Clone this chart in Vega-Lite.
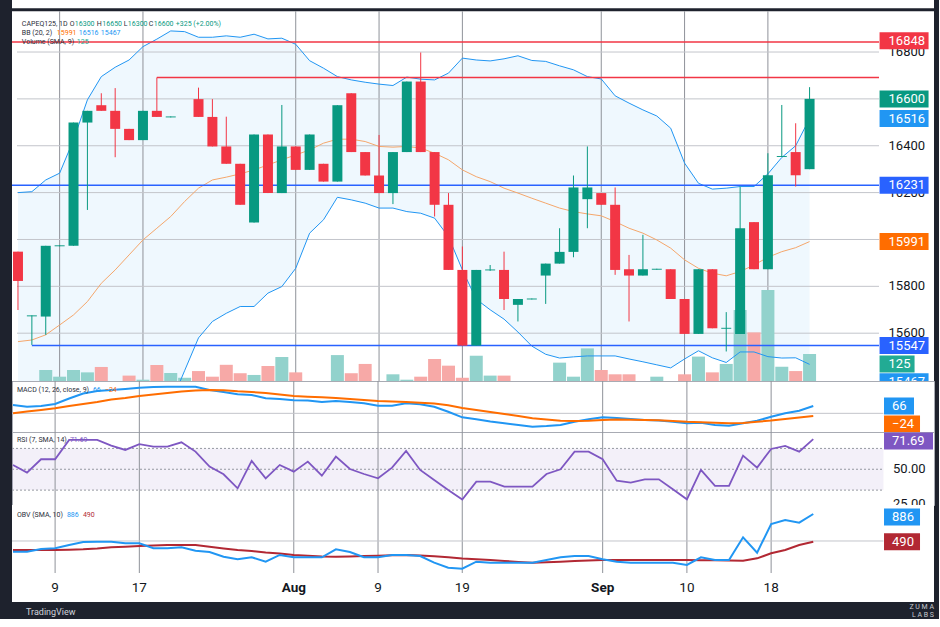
{
  "$schema": "https://vega.github.io/schema/vega-lite/v6.json",
  "background": "#1e222d",
  "padding": {"left": 8, "top": 0, "right": 3, "bottom": 1},
  "spacing": 0,
  "bounds": "flush",
  "resolve": {"scale": {"color": "independent"}},
  "title": {"text": ["Z U M A", "L A B S"], "orient": "bottom", "anchor": "end", "frame": "group", "fontSize": 7, "lineHeight": 8, "color": "#c7c9cf", "fontWeight": "normal", "offset": 0, "dy": -14},
  "datasets": {
    "bars": [
      {"i":0,"o":15948,"h":15948,"l":15699,"c":15823,"v":0,"bu":16200,"bm":15564,"bl":14930,"m":75,"sg":0,"r":53.1,"ob":347,"oa":371},
      {"i":1,"o":15672,"h":15676,"l":15550,"c":15676,"v":0,"bu":16204,"bm":15571,"bl":14940,"m":59,"sg":16,"r":47.6,"ob":347,"oa":371},
      {"i":2,"o":15671,"h":15973,"l":15593,"c":15973,"v":51,"bu":16254,"bm":15593,"bl":14930,"m":66,"sg":30,"r":57.2,"ob":386,"oa":371},
      {"i":3,"o":15971,"h":15975,"l":15971,"c":15975,"v":20,"bu":16283,"bm":15635,"bl":14990,"m":84,"sg":45,"r":57.2,"ob":396,"oa":371},
      {"i":4,"o":15973,"h":16499,"l":15973,"c":16499,"v":51,"bu":16425,"bm":15678,"bl":14930,"m":133,"sg":66,"r":71.1,"ob":443,"oa":374},
      {"i":5,"o":16499,"h":16549,"l":16126,"c":16549,"v":40,"bu":16596,"bm":15735,"bl":14875,"m":178,"sg":84,"r":71.1,"ob":486,"oa":381},
      {"i":6,"o":16573,"h":16624,"l":16549,"c":16549,"v":65,"bu":16695,"bm":15813,"bl":14930,"m":201,"sg":102,"r":71.1,"ob":490,"oa":393},
      {"i":7,"o":16549,"h":16646,"l":16351,"c":16472,"v":0,"bu":16735,"bm":15870,"bl":15005,"m":210,"sg":124,"r":67.0,"ob":490,"oa":410},
      {"i":8,"o":16472,"h":16472,"l":16424,"c":16424,"v":25,"bu":16766,"bm":15934,"bl":15100,"m":219,"sg":138,"r":63.9,"ob":467,"oa":417},
      {"i":9,"o":16424,"h":16549,"l":16424,"c":16549,"v":6,"bu":16823,"bm":15998,"bl":15175,"m":230,"sg":156,"r":68.0,"ob":467,"oa":428},
      {"i":10,"o":16549,"h":16691,"l":16523,"c":16523,"v":74,"bu":16855,"bm":16048,"bl":15240,"m":237,"sg":169,"r":66.3,"ob":396,"oa":436},
      {"i":11,"o":16521,"h":16525,"l":16521,"c":16525,"v":37,"bu":16890,"bm":16098,"bl":15300,"m":239,"sg":183,"r":66.3,"ob":396,"oa":443},
      {"i":12,"o":null,"h":null,"l":null,"c":null,"v":15,"bu":16887,"bm":16162,"bl":15440,"m":239,"sg":196,"r":69.4,"ob":410,"oa":443},
      {"i":13,"o":16599,"h":16648,"l":16523,"c":16523,"v":46,"bu":16863,"bm":16219,"bl":15580,"m":239,"sg":205,"r":62.7,"ob":361,"oa":443},
      {"i":14,"o":16523,"h":16599,"l":16397,"c":16397,"v":20,"bu":16863,"bm":16254,"bl":15650,"m":210,"sg":210,"r":51.9,"ob":343,"oa":418},
      {"i":15,"o":16397,"h":16524,"l":16323,"c":16323,"v":75,"bu":16869,"bm":16266,"bl":15685,"m":192,"sg":207,"r":46.4,"ob":275,"oa":393},
      {"i":16,"o":16323,"h":16323,"l":16148,"c":16148,"v":36,"bu":16863,"bm":16280,"bl":15714,"m":171,"sg":198,"r":36.3,"ob":238,"oa":371},
      {"i":17,"o":16072,"h":16448,"l":16072,"c":16448,"v":28,"bu":16876,"bm":16297,"bl":15714,"m":165,"sg":192,"r":56.0,"ob":267,"oa":357},
      {"i":18,"o":16448,"h":16448,"l":16198,"c":16198,"v":69,"bu":16856,"bm":16318,"bl":15771,"m":135,"sg":183,"r":43.5,"ob":204,"oa":335},
      {"i":19,"o":16198,"h":16574,"l":16198,"c":16397,"v":111,"bu":16859,"bm":16340,"bl":15799,"m":128,"sg":169,"r":53.1,"ob":300,"oa":321},
      {"i":20,"o":16397,"h":16397,"l":16297,"c":16297,"v":40,"bu":16833,"bm":16361,"bl":15877,"m":117,"sg":156,"r":48.3,"ob":267,"oa":300},
      {"i":21,"o":16297,"h":16448,"l":16297,"c":16448,"v":0,"bu":16763,"bm":16382,"bl":16027,"m":115,"sg":150,"r":55.5,"ob":267,"oa":288},
      {"i":22,"o":16323,"h":16323,"l":16247,"c":16247,"v":0,"bu":16731,"bm":16411,"bl":16084,"m":102,"sg":145,"r":45.4,"ob":267,"oa":278},
      {"i":23,"o":16247,"h":16573,"l":16247,"c":16573,"v":120,"bu":16695,"bm":16428,"bl":16180,"m":111,"sg":138,"r":59.1,"ob":381,"oa":275},
      {"i":24,"o":16624,"h":16624,"l":16373,"c":16373,"v":36,"bu":16681,"bm":16428,"bl":16169,"m":102,"sg":129,"r":50.2,"ob":343,"oa":278},
      {"i":25,"o":16373,"h":16373,"l":16273,"c":16273,"v":79,"bu":16671,"bm":16418,"bl":16155,"m":90,"sg":120,"r":46.6,"ob":267,"oa":285},
      {"i":26,"o":16273,"h":16446,"l":16198,"c":16198,"v":0,"bu":16663,"bm":16397,"bl":16134,"m":69,"sg":111,"r":43.5,"ob":267,"oa":290},
      {"i":27,"o":16198,"h":16373,"l":16151,"c":16373,"v":31,"bu":16657,"bm":16394,"bl":16134,"m":69,"sg":106,"r":51.2,"ob":300,"oa":295},
      {"i":28,"o":16373,"h":16674,"l":16373,"c":16674,"v":6,"bu":16693,"bm":16397,"bl":16119,"m":90,"sg":102,"r":63.2,"ob":300,"oa":300},
      {"i":29,"o":16674,"h":16798,"l":16373,"c":16373,"v":20,"bu":16684,"bm":16390,"bl":16112,"m":81,"sg":95,"r":49.5,"ob":285,"oa":293},
      {"i":30,"o":16373,"h":16373,"l":16098,"c":16148,"v":102,"bu":16681,"bm":16368,"bl":16091,"m":59,"sg":88,"r":42.3,"ob":190,"oa":281},
      {"i":31,"o":16148,"h":16198,"l":15870,"c":15870,"v":71,"bu":16710,"bm":16340,"bl":16012,"m":14,"sg":72,"r":35.1,"ob":118,"oa":267},
      {"i":32,"o":15870,"h":15970,"l":15547,"c":15547,"v":15,"bu":16774,"bm":16297,"bl":15870,"m":-36,"sg":48,"r":28.3,"ob":104,"oa":250},
      {"i":33,"o":15547,"h":15870,"l":15547,"c":15870,"v":117,"bu":16766,"bm":16268,"bl":15745,"m":-54,"sg":30,"r":41.1,"ob":204,"oa":238},
      {"i":34,"o":15868,"h":15891,"l":15866,"c":15872,"v":25,"bu":16762,"bm":16247,"bl":15700,"m":-74,"sg":12,"r":41.1,"ob":190,"oa":228},
      {"i":35,"o":15870,"h":15948,"l":15699,"c":15746,"v":25,"bu":16771,"bm":16219,"bl":15660,"m":-90,"sg":-6,"r":37.5,"ob":190,"oa":214},
      {"i":36,"o":15721,"h":15746,"l":15650,"c":15746,"v":0,"bu":16784,"bm":16198,"bl":15605,"m":-105,"sg":-24,"r":37.5,"ob":190,"oa":200},
      {"i":37,"o":15744,"h":15748,"l":15744,"c":15748,"v":0,"bu":16764,"bm":16176,"bl":15545,"m":-120,"sg":-45,"r":37.5,"ob":190,"oa":190},
      {"i":38,"o":15846,"h":15897,"l":15725,"c":15897,"v":0,"bu":16760,"bm":16155,"bl":15510,"m":-114,"sg":-56,"r":46.6,"ob":228,"oa":195},
      {"i":39,"o":15897,"h":16048,"l":15897,"c":15947,"v":85,"bu":16741,"bm":16134,"bl":15494,"m":-105,"sg":-67,"r":50.0,"ob":267,"oa":204},
      {"i":40,"o":15947,"h":16273,"l":15924,"c":16222,"v":20,"bu":16724,"bm":16119,"bl":15499,"m":-76,"sg":-69,"r":62.7,"ob":285,"oa":214},
      {"i":41,"o":16172,"h":16397,"l":16048,"c":16222,"v":151,"bu":16695,"bm":16109,"bl":15503,"m":-54,"sg":-67,"r":62.7,"ob":285,"oa":221},
      {"i":42,"o":16198,"h":16198,"l":16148,"c":16148,"v":51,"bu":16685,"bm":16101,"bl":15503,"m":-36,"sg":-60,"r":57.2,"ob":238,"oa":228},
      {"i":43,"o":16148,"h":16222,"l":15849,"c":15870,"v":31,"bu":16613,"bm":16076,"bl":15503,"m":-42,"sg":-56,"r":41.8,"ob":204,"oa":228},
      {"i":44,"o":15873,"h":15934,"l":15650,"c":15846,"v":31,"bu":16582,"bm":16048,"bl":15490,"m":-51,"sg":-58,"r":40.4,"ob":190,"oa":228},
      {"i":45,"o":15846,"h":16020,"l":15846,"c":15873,"v":0,"bu":16553,"bm":16027,"bl":15478,"m":-60,"sg":-60,"r":42.8,"ob":190,"oa":228},
      {"i":46,"o":15871,"h":15875,"l":15871,"c":15875,"v":20,"bu":16527,"bm":15998,"bl":15465,"m":-65,"sg":-63,"r":42.8,"ob":190,"oa":228},
      {"i":47,"o":15873,"h":15873,"l":15746,"c":15746,"v":0,"bu":16475,"bm":15963,"bl":15452,"m":-76,"sg":-68,"r":35.6,"ob":190,"oa":228},
      {"i":48,"o":15746,"h":15746,"l":15597,"c":15597,"v":31,"bu":16326,"bm":15913,"bl":15490,"m":-90,"sg":-76,"r":28.4,"ob":157,"oa":228},
      {"i":49,"o":15597,"h":15873,"l":15597,"c":15873,"v":113,"bu":16240,"bm":15877,"bl":15525,"m":-85,"sg":-80,"r":49.5,"ob":267,"oa":225},
      {"i":50,"o":15873,"h":15873,"l":15621,"c":15621,"v":40,"bu":16215,"bm":15856,"bl":15495,"m":-105,"sg":-85,"r":38.0,"ob":228,"oa":224},
      {"i":51,"o":15619,"h":15690,"l":15522,"c":15623,"v":79,"bu":16219,"bm":15845,"bl":15475,"m":-111,"sg":-89,"r":38.0,"ob":228,"oa":221},
      {"i":52,"o":15597,"h":16226,"l":15597,"c":16048,"v":329,"bu":16226,"bm":15863,"bl":15520,"m":-90,"sg":-87,"r":59.8,"ob":553,"oa":218},
      {"i":53,"o":16074,"h":16074,"l":15873,"c":15873,"v":225,"bu":16226,"bm":15891,"bl":15520,"m":-67,"sg":-76,"r":51.2,"ob":333,"oa":252},
      {"i":54,"o":15873,"h":16368,"l":15873,"c":16274,"v":421,"bu":16280,"bm":15924,"bl":15500,"m":-31,"sg":-65,"r":64.6,"ob":743,"oa":324},
      {"i":55,"o":16352,"h":16574,"l":16352,"c":16356,"v":66,"bu":16350,"bm":15948,"bl":15494,"m":0,"sg":-51,"r":66.8,"ob":800,"oa":371},
      {"i":56,"o":16373,"h":16496,"l":16226,"c":16274,"v":46,"bu":16400,"bm":15965,"bl":15495,"m":23,"sg":-38,"r":62.7,"ob":762,"oa":443},
      {"i":57,"o":16300,"h":16650,"l":16300,"c":16600,"v":125,"bu":16516,"bm":15991,"bl":15467,"m":66,"sg":-24,"r":71.69,"ob":886,"oa":490}
    ],
    "one": [{"n": 1}],
    "pgrid": [{"p":15600},{"p":15800},{"p":16000},{"p":16200},{"p":16400},{"p":16600},{"p":16800}],
    "plab": [{"p":15600},{"p":15800},{"p":16200},{"p":16400},{"p":16800}],
    "levels": [
      {"p":16843,"s":-5,"k":"r"},
      {"p":16691,"s":10,"k":"r"},
      {"p":16231,"s":-5,"k":"b"},
      {"p":15547,"s":1,"k":"b"}
    ],
    "ptags": [
      {"p":16848,"t":"16848","k":"r"},
      {"p":16600,"t":"16600","k":"up"},
      {"p":16516,"t":"16516","k":"bb"},
      {"p":16231,"t":"16231","k":"b"},
      {"p":15991,"t":"15991","k":"mid"},
      {"p":15547,"t":"15547","k":"b"}
    ],
    "ptag2": [{"p":15467,"t":"15467"}],
    "vtag": [{"v":125,"t":"125"}],
    "mzero": [{"v":0}],
    "mtag1": [{"v":66,"t":"66"}],
    "mtag2": [{"v":-24,"t":"−24"}],
    "rband": [{"hi":65,"lo":35}],
    "rlines": [{"v":65},{"v":50},{"v":35}],
    "rlab": [{"v":50},{"v":25}],
    "rtag": [{"v":71.69,"t":"71.69"}],
    "ogrid": [{"v":500}],
    "otag1": [{"v":886,"t":"886"}],
    "otag2": [{"v":490,"t":"490"}],
    "dates": [
      {"i":3,"t":"9"},{"i":9,"t":"17"},{"i":20,"t":"Aug"},{"i":26,"t":"9"},
      {"i":32,"t":"19"},{"i":42,"t":"Sep"},{"i":48,"t":"10"},{"i":54,"t":"18"}
    ]
  },
  "vconcat": [
    {
      "width": 922,
      "height": 381,
      "view": {"stroke": null},
      "layer": [
        {
          "layer": [
            {
              "data": {"name": "bars"},
              "mark": {"type": "area", "color": "#2196f3", "opacity": 0.07, "clip": true},
              "encoding": {
                "x": {"field": "i", "type": "quantitative", "scale": {"domain": [-0.07, 65.6], "nice": false, "zero": false}, "axis": null},
                "y": {"field": "bu", "type": "quantitative", "scale": {"domain": [15396, 17022], "nice": false, "zero": false}, "axis": null},
                "y2": {"field": "bl"}
              }
            },
            {
              "data": {"name": "dates"},
              "mark": {"type": "rule", "color": "#8f9299", "strokeWidth": 1},
              "encoding": {
                "x": {"field": "i", "type": "quantitative", "axis": null},
                "y": {"datum": 16973, "type": "quantitative", "axis": null},
                "y2": {"datum": 15396}
              }
            },
            {
              "data": {"name": "pgrid"},
              "mark": {"type": "rule", "color": "#c3c5cb", "strokeWidth": 1},
              "encoding": {
                "x": {"datum": -0.07, "type": "quantitative", "axis": null},
                "x2": {"datum": 62.0},
                "y": {"field": "p", "type": "quantitative", "axis": null}
              }
            },
            {
              "data": {"name": "one"},
              "mark": {"type": "rule", "color": "#1e222d", "strokeWidth": 3},
              "encoding": {"y": {"datum": 16980, "type": "quantitative", "axis": null}}
            }
          ]
        },
        {
          "layer": [
            {
              "data": {"name": "bars"},
              "mark": {"type": "bar", "width": 13},
              "encoding": {
                "x": {"field": "i", "type": "quantitative", "axis": null},
                "y": {"field": "v", "type": "quantitative", "scale": {"domain": [0, 1764], "nice": false}, "axis": null},
                "color": {"condition": {"test": "datum.c >= datum.o", "value": "#92d2cc"}, "value": "#f7a9a7"}
              }
            },
            {
              "data": {"name": "vtag"},
              "mark": {"type": "point", "shape": "M-1,-0.486L1,-0.486L1,0.486L-1,0.486Z", "size": 1225, "filled": true, "opacity": 1, "strokeWidth": 0, "xOffset": 17.5, "yOffset": 10, "color": "#22ab94"},
              "encoding": {"x": {"datum": 62.04, "type": "quantitative", "axis": null}, "y": {"field": "v", "type": "quantitative", "axis": null}}
            },
            {
              "data": {"name": "vtag"},
              "mark": {"type": "text", "align": "left", "baseline": "middle", "dx": 9, "yOffset": 10, "color": "white", "fontSize": 13},
              "encoding": {"x": {"datum": 62.04, "type": "quantitative", "axis": null}, "y": {"field": "v", "type": "quantitative", "axis": null}, "text": {"field": "t"}}
            }
          ]
        },
        {
          "layer": [
            {
              "data": {"name": "bars"},
              "mark": {"type": "line", "color": "#2196f3", "strokeWidth": 1, "clip": true},
              "encoding": {
                "x": {"field": "i", "type": "quantitative", "axis": null},
                "y": {"field": "bu", "type": "quantitative", "scale": {"domain": [15396, 17022], "nice": false, "zero": false}, "axis": null}
              }
            },
            {
              "data": {"name": "bars"},
              "mark": {"type": "line", "color": "#2196f3", "strokeWidth": 1, "clip": true},
              "encoding": {"x": {"field": "i", "type": "quantitative", "axis": null}, "y": {"field": "bl", "type": "quantitative", "axis": null}}
            },
            {
              "data": {"name": "bars"},
              "mark": {"type": "line", "color": "#f5a76c", "strokeWidth": 1, "clip": true},
              "encoding": {"x": {"field": "i", "type": "quantitative", "axis": null}, "y": {"field": "bm", "type": "quantitative", "axis": null}}
            },
            {
              "data": {"name": "levels"},
              "mark": {"type": "rule", "strokeWidth": 1.5, "clip": true},
              "encoding": {
                "x": {"field": "s", "type": "quantitative", "axis": null},
                "x2": {"datum": 62.0},
                "y": {"field": "p", "type": "quantitative", "axis": null},
                "color": {"field": "k", "type": "nominal", "scale": {"domain": ["r", "b", "up", "bb", "mid"], "range": ["#f23645", "#2962ff", "#089981", "#2196f3", "#ff6d00"]}, "legend": null}
              }
            },
            {
              "data": {"name": "bars"},
              "mark": {"type": "rule", "strokeWidth": 1},
              "encoding": {
                "x": {"field": "i", "type": "quantitative", "axis": null},
                "y": {"field": "l", "type": "quantitative", "axis": null},
                "y2": {"field": "h"},
                "color": {"condition": {"test": "datum.c >= datum.o", "value": "#089981"}, "value": "#f23645"}
              }
            },
            {
              "data": {"name": "bars"},
              "mark": {"type": "bar", "width": 10},
              "encoding": {
                "x": {"field": "i", "type": "quantitative", "axis": null},
                "y": {"field": "o", "type": "quantitative", "axis": null},
                "y2": {"field": "c"},
                "color": {"condition": {"test": "datum.c >= datum.o", "value": "#089981"}, "value": "#f23645"}
              }
            },
            {
              "data": {"name": "plab"},
              "mark": {"type": "text", "align": "left", "baseline": "middle", "dx": 9, "color": "#131722", "fontSize": 13},
              "encoding": {"x": {"datum": 62.04, "type": "quantitative", "axis": null}, "y": {"field": "p", "type": "quantitative", "axis": null}, "text": {"field": "p", "type": "quantitative", "format": "d"}}
            },
            {
              "data": {"name": "ptags"},
              "mark": {"type": "point", "shape": "M-1,-0.347L1,-0.347L1,0.347L-1,0.347Z", "size": 2401, "filled": true, "opacity": 1, "strokeWidth": 0, "xOffset": 24.5, "clip": true},
              "encoding": {
                "x": {"datum": 62.04, "type": "quantitative", "axis": null},
                "y": {"field": "p", "type": "quantitative", "axis": null},
                "color": {"field": "k", "type": "nominal", "scale": {"domain": ["r", "b", "up", "bb", "mid"], "range": ["#f23645", "#2962ff", "#089981", "#2196f3", "#ff6d00"]}, "legend": null}
              }
            },
            {
              "data": {"name": "ptags"},
              "mark": {"type": "text", "align": "left", "baseline": "middle", "dx": 9, "color": "white", "fontSize": 13, "clip": true},
              "encoding": {"x": {"datum": 62.04, "type": "quantitative", "axis": null}, "y": {"field": "p", "type": "quantitative", "axis": null}, "text": {"field": "t"}}
            },
            {
              "data": {"name": "ptag2"},
              "mark": {"type": "point", "shape": "M-1,-0.347L1,-0.347L1,0.347L-1,0.347Z", "size": 2401, "filled": true, "opacity": 1, "strokeWidth": 0, "xOffset": 24.5, "yOffset": 17.5, "color": "#2196f3", "clip": true},
              "encoding": {"x": {"datum": 62.04, "type": "quantitative", "axis": null}, "y": {"field": "p", "type": "quantitative", "axis": null}}
            },
            {
              "data": {"name": "ptag2"},
              "mark": {"type": "text", "align": "left", "baseline": "middle", "dx": 9, "yOffset": 17.5, "color": "white", "fontSize": 13, "clip": true},
              "encoding": {"x": {"datum": 62.04, "type": "quantitative", "axis": null}, "y": {"field": "p", "type": "quantitative", "axis": null}, "text": {"field": "t"}}
            },
            {
              "data": {"name": "one"},
              "layer": [
                {"mark": {"type": "text", "text": "CAPEQ125, 1D", "align": "left", "baseline": "top", "fontSize": 7, "color": "#2a2e39"}, "encoding": {"x": {"datum": 0.28, "type": "quantitative", "axis": null}, "y": {"datum": 16937, "type": "quantitative", "axis": null}}},
                {"mark": {"type": "text", "text": "O", "dx": 48, "align": "left", "baseline": "top", "fontSize": 7, "color": "#2a2e39"}, "encoding": {"x": {"datum": 0.28, "type": "quantitative", "axis": null}, "y": {"datum": 16937, "type": "quantitative", "axis": null}}},
                {"mark": {"type": "text", "text": "16300", "dx": 53, "align": "left", "baseline": "top", "fontSize": 7, "color": "#089981"}, "encoding": {"x": {"datum": 0.28, "type": "quantitative", "axis": null}, "y": {"datum": 16937, "type": "quantitative", "axis": null}}},
                {"mark": {"type": "text", "text": "H", "dx": 75, "align": "left", "baseline": "top", "fontSize": 7, "color": "#2a2e39"}, "encoding": {"x": {"datum": 0.28, "type": "quantitative", "axis": null}, "y": {"datum": 16937, "type": "quantitative", "axis": null}}},
                {"mark": {"type": "text", "text": "16650", "dx": 80.5, "align": "left", "baseline": "top", "fontSize": 7, "color": "#089981"}, "encoding": {"x": {"datum": 0.28, "type": "quantitative", "axis": null}, "y": {"datum": 16937, "type": "quantitative", "axis": null}}},
                {"mark": {"type": "text", "text": "L", "dx": 102, "align": "left", "baseline": "top", "fontSize": 7, "color": "#2a2e39"}, "encoding": {"x": {"datum": 0.28, "type": "quantitative", "axis": null}, "y": {"datum": 16937, "type": "quantitative", "axis": null}}},
                {"mark": {"type": "text", "text": "16300", "dx": 106, "align": "left", "baseline": "top", "fontSize": 7, "color": "#089981"}, "encoding": {"x": {"datum": 0.28, "type": "quantitative", "axis": null}, "y": {"datum": 16937, "type": "quantitative", "axis": null}}},
                {"mark": {"type": "text", "text": "C", "dx": 127, "align": "left", "baseline": "top", "fontSize": 7, "color": "#2a2e39"}, "encoding": {"x": {"datum": 0.28, "type": "quantitative", "axis": null}, "y": {"datum": 16937, "type": "quantitative", "axis": null}}},
                {"mark": {"type": "text", "text": "16600", "dx": 132, "align": "left", "baseline": "top", "fontSize": 7, "color": "#089981"}, "encoding": {"x": {"datum": 0.28, "type": "quantitative", "axis": null}, "y": {"datum": 16937, "type": "quantitative", "axis": null}}},
                {"mark": {"type": "text", "text": "+325 (+2.00%)", "dx": 154, "align": "left", "baseline": "top", "fontSize": 7, "color": "#089981"}, "encoding": {"x": {"datum": 0.28, "type": "quantitative", "axis": null}, "y": {"datum": 16937, "type": "quantitative", "axis": null}}},
                {"mark": {"type": "text", "text": "BB (20, 2)", "align": "left", "baseline": "top", "fontSize": 7, "color": "#2a2e39"}, "encoding": {"x": {"datum": 0.28, "type": "quantitative", "axis": null}, "y": {"datum": 16899, "type": "quantitative", "axis": null}}},
                {"mark": {"type": "text", "text": "15991", "dx": 35, "align": "left", "baseline": "top", "fontSize": 7, "color": "#ff6d00"}, "encoding": {"x": {"datum": 0.28, "type": "quantitative", "axis": null}, "y": {"datum": 16899, "type": "quantitative", "axis": null}}},
                {"mark": {"type": "text", "text": "16516", "dx": 57, "align": "left", "baseline": "top", "fontSize": 7, "color": "#2196f3"}, "encoding": {"x": {"datum": 0.28, "type": "quantitative", "axis": null}, "y": {"datum": 16899, "type": "quantitative", "axis": null}}},
                {"mark": {"type": "text", "text": "15467", "dx": 79, "align": "left", "baseline": "top", "fontSize": 7, "color": "#2196f3"}, "encoding": {"x": {"datum": 0.28, "type": "quantitative", "axis": null}, "y": {"datum": 16899, "type": "quantitative", "axis": null}}},
                {"mark": {"type": "text", "text": "Volume (SMA, 9)", "align": "left", "baseline": "top", "fontSize": 7, "color": "#2a2e39"}, "encoding": {"x": {"datum": 0.28, "type": "quantitative", "axis": null}, "y": {"datum": 16860, "type": "quantitative", "axis": null}}},
                {"mark": {"type": "text", "text": "125", "dx": 55, "align": "left", "baseline": "top", "fontSize": 7, "color": "#22ab94"}, "encoding": {"x": {"datum": 0.28, "type": "quantitative", "axis": null}, "y": {"datum": 16860, "type": "quantitative", "axis": null}}}
              ]
            }
          ]
        }
      ],
      "resolve": {"scale": {"y": "independent"}}
    },
    {
      "width": 922,
      "height": 51,
      "layer": [
        {
          "data": {"name": "dates"},
          "mark": {"type": "rule", "color": "#8f9299", "strokeWidth": 1},
          "encoding": {"x": {"field": "i", "type": "quantitative", "scale": {"domain": [-0.07, 65.6], "nice": false, "zero": false}, "axis": null}}
        },
        {
          "data": {"name": "mzero"},
          "mark": {"type": "rule", "color": "#c3c5cb"},
          "encoding": {"x": {"datum": -0.07, "type": "quantitative", "axis": null}, "x2": {"datum": 62.0}, "y": {"field": "v", "type": "quantitative", "scale": {"domain": [-168, 291], "nice": false, "zero": false}, "axis": null}}
        },
        {
          "data": {"name": "bars"},
          "mark": {"type": "line", "color": "#2196f3", "strokeWidth": 2},
          "encoding": {"x": {"field": "i", "type": "quantitative", "axis": null}, "y": {"field": "m", "type": "quantitative", "axis": null}}
        },
        {
          "data": {"name": "bars"},
          "mark": {"type": "line", "color": "#ff6d00", "strokeWidth": 2},
          "encoding": {"x": {"field": "i", "type": "quantitative", "axis": null}, "y": {"field": "sg", "type": "quantitative", "axis": null}}
        },
        {
          "data": {"name": "mtag1"},
          "mark": {"type": "point", "shape": "M-1,-0.567L1,-0.567L1,0.567L-1,0.567Z", "size": 900, "filled": true, "opacity": 1, "strokeWidth": 0, "xOffset": 15, "color": "#2196f3"},
          "encoding": {"x": {"datum": 62.04, "type": "quantitative", "axis": null}, "y": {"field": "v", "type": "quantitative", "axis": null}}
        },
        {
          "data": {"name": "mtag1"},
          "mark": {"type": "text", "align": "left", "baseline": "middle", "dx": 8, "color": "white", "fontSize": 13},
          "encoding": {"x": {"datum": 62.04, "type": "quantitative", "axis": null}, "y": {"field": "v", "type": "quantitative", "axis": null}, "text": {"field": "t"}}
        },
        {
          "data": {"name": "mtag2"},
          "mark": {"type": "point", "shape": "M-1,-0.472L1,-0.472L1,0.472L-1,0.472Z", "size": 1296, "filled": true, "opacity": 1, "strokeWidth": 0, "xOffset": 18, "yOffset": 8, "color": "#ff6d00"},
          "encoding": {"x": {"datum": 62.04, "type": "quantitative", "axis": null}, "y": {"field": "v", "type": "quantitative", "axis": null}}
        },
        {
          "data": {"name": "mtag2"},
          "mark": {"type": "text", "align": "left", "baseline": "middle", "dx": 8, "yOffset": 8, "color": "white", "fontSize": 13},
          "encoding": {"x": {"datum": 62.04, "type": "quantitative", "axis": null}, "y": {"field": "v", "type": "quantitative", "axis": null}, "text": {"field": "t"}}
        },
        {
          "data": {"name": "one"},
          "layer": [
            {"mark": {"type": "text", "text": "MACD (12, 26, close, 9)", "align": "left", "baseline": "top", "fontSize": 7, "color": "#2a2e39"}, "encoding": {"x": {"datum": 0.28, "type": "quantitative", "axis": null}, "y": {"datum": 246, "type": "quantitative", "axis": null}}},
            {"mark": {"type": "text", "text": "66", "dx": 76, "align": "left", "baseline": "top", "fontSize": 7, "color": "#2196f3"}, "encoding": {"x": {"datum": 0.28, "type": "quantitative", "axis": null}, "y": {"datum": 246, "type": "quantitative", "axis": null}}},
            {"mark": {"type": "text", "text": "−24", "dx": 88, "align": "left", "baseline": "top", "fontSize": 7, "color": "#ff6d00"}, "encoding": {"x": {"datum": 0.28, "type": "quantitative", "axis": null}, "y": {"datum": 246, "type": "quantitative", "axis": null}}}
          ]
        }
      ]
    },
    {
      "width": 922,
      "height": 73,
      "layer": [
        {
          "data": {"name": "rband"},
          "mark": {"type": "rect", "color": "#7e57c2", "opacity": 0.09},
          "encoding": {
            "x": {"datum": -0.07, "type": "quantitative", "scale": {"domain": [-0.07, 65.6], "nice": false, "zero": false}, "axis": null},
            "x2": {"datum": 62.0},
            "y": {"field": "hi", "type": "quantitative", "scale": {"domain": [24.3, 76.8], "nice": false, "zero": false}, "axis": null},
            "y2": {"field": "lo"}
          }
        },
        {
          "data": {"name": "dates"},
          "mark": {"type": "rule", "color": "#8f9299", "strokeWidth": 1},
          "encoding": {"x": {"field": "i", "type": "quantitative", "axis": null}}
        },
        {
          "data": {"name": "rlines"},
          "mark": {"type": "rule", "color": "#9598a1", "strokeDash": [2, 2], "strokeWidth": 1},
          "encoding": {"x": {"datum": -0.07, "type": "quantitative", "axis": null}, "x2": {"datum": 62.0}, "y": {"field": "v", "type": "quantitative", "axis": null}}
        },
        {
          "data": {"name": "bars"},
          "mark": {"type": "line", "color": "#7e57c2", "strokeWidth": 1.8},
          "encoding": {"x": {"field": "i", "type": "quantitative", "axis": null}, "y": {"field": "r", "type": "quantitative", "axis": null}}
        },
        {
          "data": {"name": "rlab"},
          "mark": {"type": "text", "align": "left", "baseline": "middle", "dx": 9, "color": "#131722", "fontSize": 13},
          "encoding": {"x": {"datum": 62.04, "type": "quantitative", "axis": null}, "y": {"field": "v", "type": "quantitative", "axis": null}, "text": {"field": "v", "type": "quantitative", "format": ".2f"}}
        },
        {
          "data": {"name": "rtag"},
          "mark": {"type": "point", "shape": "M-1,-0.347L1,-0.347L1,0.347L-1,0.347Z", "size": 2401, "filled": true, "opacity": 1, "strokeWidth": 0, "xOffset": 24.5, "yOffset": 2, "color": "#7e57c2"},
          "encoding": {"x": {"datum": 62.04, "type": "quantitative", "axis": null}, "y": {"field": "v", "type": "quantitative", "axis": null}}
        },
        {
          "data": {"name": "rtag"},
          "mark": {"type": "text", "align": "left", "baseline": "middle", "dx": 8, "yOffset": 2, "color": "white", "fontSize": 13},
          "encoding": {"x": {"datum": 62.04, "type": "quantitative", "axis": null}, "y": {"field": "v", "type": "quantitative", "axis": null}, "text": {"field": "t"}}
        },
        {
          "data": {"name": "one"},
          "layer": [
            {"mark": {"type": "text", "text": "RSI (7, SMA, 14)", "align": "left", "baseline": "top", "fontSize": 7, "color": "#2a2e39"}, "encoding": {"x": {"datum": 0.28, "type": "quantitative", "axis": null}, "y": {"datum": 73.6, "type": "quantitative", "axis": null}}},
            {"mark": {"type": "text", "text": "71.69", "dx": 53, "align": "left", "baseline": "top", "fontSize": 7, "color": "#7e57c2"}, "encoding": {"x": {"datum": 0.28, "type": "quantitative", "axis": null}, "y": {"datum": 73.6, "type": "quantitative", "axis": null}}}
          ]
        }
      ]
    },
    {
      "width": 922,
      "height": 68,
      "view": {"stroke": null},
      "layer": [
        {
          "data": {"name": "dates"},
          "mark": {"type": "rule", "color": "#8f9299", "strokeWidth": 1},
          "encoding": {"x": {"field": "i", "type": "quantitative", "scale": {"domain": [-0.07, 65.6], "nice": false, "zero": false}, "axis": null}}
        },
        {
          "data": {"name": "ogrid"},
          "mark": {"type": "rule", "color": "#c3c5cb"},
          "encoding": {"x": {"datum": -0.07, "type": "quantitative", "axis": null}, "x2": {"datum": 62.0}, "y": {"field": "v", "type": "quantitative", "scale": {"domain": [42, 1015], "nice": false, "zero": false}, "axis": null}}
        },
        {
          "data": {"name": "bars"},
          "mark": {"type": "line", "color": "#b22833", "strokeWidth": 2},
          "encoding": {"x": {"field": "i", "type": "quantitative", "axis": null}, "y": {"field": "oa", "type": "quantitative", "axis": null}}
        },
        {
          "data": {"name": "bars"},
          "mark": {"type": "line", "color": "#2196f3", "strokeWidth": 2},
          "encoding": {"x": {"field": "i", "type": "quantitative", "axis": null}, "y": {"field": "ob", "type": "quantitative", "axis": null}}
        },
        {
          "data": {"name": "otag1"},
          "mark": {"type": "point", "shape": "M-1,-0.472L1,-0.472L1,0.472L-1,0.472Z", "size": 1296, "filled": true, "opacity": 1, "strokeWidth": 0, "xOffset": 18, "yOffset": 3, "color": "#2196f3"},
          "encoding": {"x": {"datum": 62.04, "type": "quantitative", "axis": null}, "y": {"field": "v", "type": "quantitative", "axis": null}}
        },
        {
          "data": {"name": "otag1"},
          "mark": {"type": "text", "align": "left", "baseline": "middle", "dx": 8, "yOffset": 3, "color": "white", "fontSize": 13},
          "encoding": {"x": {"datum": 62.04, "type": "quantitative", "axis": null}, "y": {"field": "v", "type": "quantitative", "axis": null}, "text": {"field": "t"}}
        },
        {
          "data": {"name": "otag2"},
          "mark": {"type": "point", "shape": "M-1,-0.472L1,-0.472L1,0.472L-1,0.472Z", "size": 1296, "filled": true, "opacity": 1, "strokeWidth": 0, "xOffset": 18, "color": "#b22833"},
          "encoding": {"x": {"datum": 62.04, "type": "quantitative", "axis": null}, "y": {"field": "v", "type": "quantitative", "axis": null}}
        },
        {
          "data": {"name": "otag2"},
          "mark": {"type": "text", "align": "left", "baseline": "middle", "dx": 8, "color": "white", "fontSize": 13},
          "encoding": {"x": {"datum": 62.04, "type": "quantitative", "axis": null}, "y": {"field": "v", "type": "quantitative", "axis": null}, "text": {"field": "t"}}
        },
        {
          "data": {"name": "one"},
          "layer": [
            {"mark": {"type": "text", "text": "OBV (SMA, 10)", "align": "left", "baseline": "top", "fontSize": 7, "color": "#2a2e39"}, "encoding": {"x": {"datum": 0.28, "type": "quantitative", "axis": null}, "y": {"datum": 922, "type": "quantitative", "axis": null}}},
            {"mark": {"type": "text", "text": "886", "dx": 50, "align": "left", "baseline": "top", "fontSize": 7, "color": "#2196f3"}, "encoding": {"x": {"datum": 0.28, "type": "quantitative", "axis": null}, "y": {"datum": 922, "type": "quantitative", "axis": null}}},
            {"mark": {"type": "text", "text": "490", "dx": 66, "align": "left", "baseline": "top", "fontSize": 7, "color": "#b22833"}, "encoding": {"x": {"datum": 0.28, "type": "quantitative", "axis": null}, "y": {"datum": 922, "type": "quantitative", "axis": null}}}
          ]
        }
      ]
    },
    {
      "width": 922,
      "height": 29,
      "view": {"stroke": null},
      "title": {"text": "TradingView", "orient": "bottom", "anchor": "start", "frame": "group", "baseline": "top", "offset": 6, "dx": 14, "fontSize": 9, "fontWeight": "normal", "color": "#d1d4dc"},
      "data": {"name": "dates"},
      "encoding": {
        "x": {"field": "i", "type": "quantitative", "scale": {"domain": [-0.07, 65.6], "nice": false, "zero": false}, "axis": null},
        "text": {"field": "t"}
      },
      "layer": [
        {
          "transform": [{"filter": "datum.t != 'Aug' && datum.t != 'Sep'"}],
          "mark": {"type": "text", "fontSize": 13.5, "color": "#131722", "baseline": "middle"}
        },
        {
          "transform": [{"filter": "datum.t == 'Aug' || datum.t == 'Sep'"}],
          "mark": {"type": "text", "fontSize": 13.5, "fontWeight": "bold", "color": "#131722", "baseline": "middle"}
        }
      ]
    }
  ],
  "config": {
    "font": "Roboto",
    "view": {"fill": "white", "stroke": "#a8abb3", "strokeWidth": 1}
  }
}
